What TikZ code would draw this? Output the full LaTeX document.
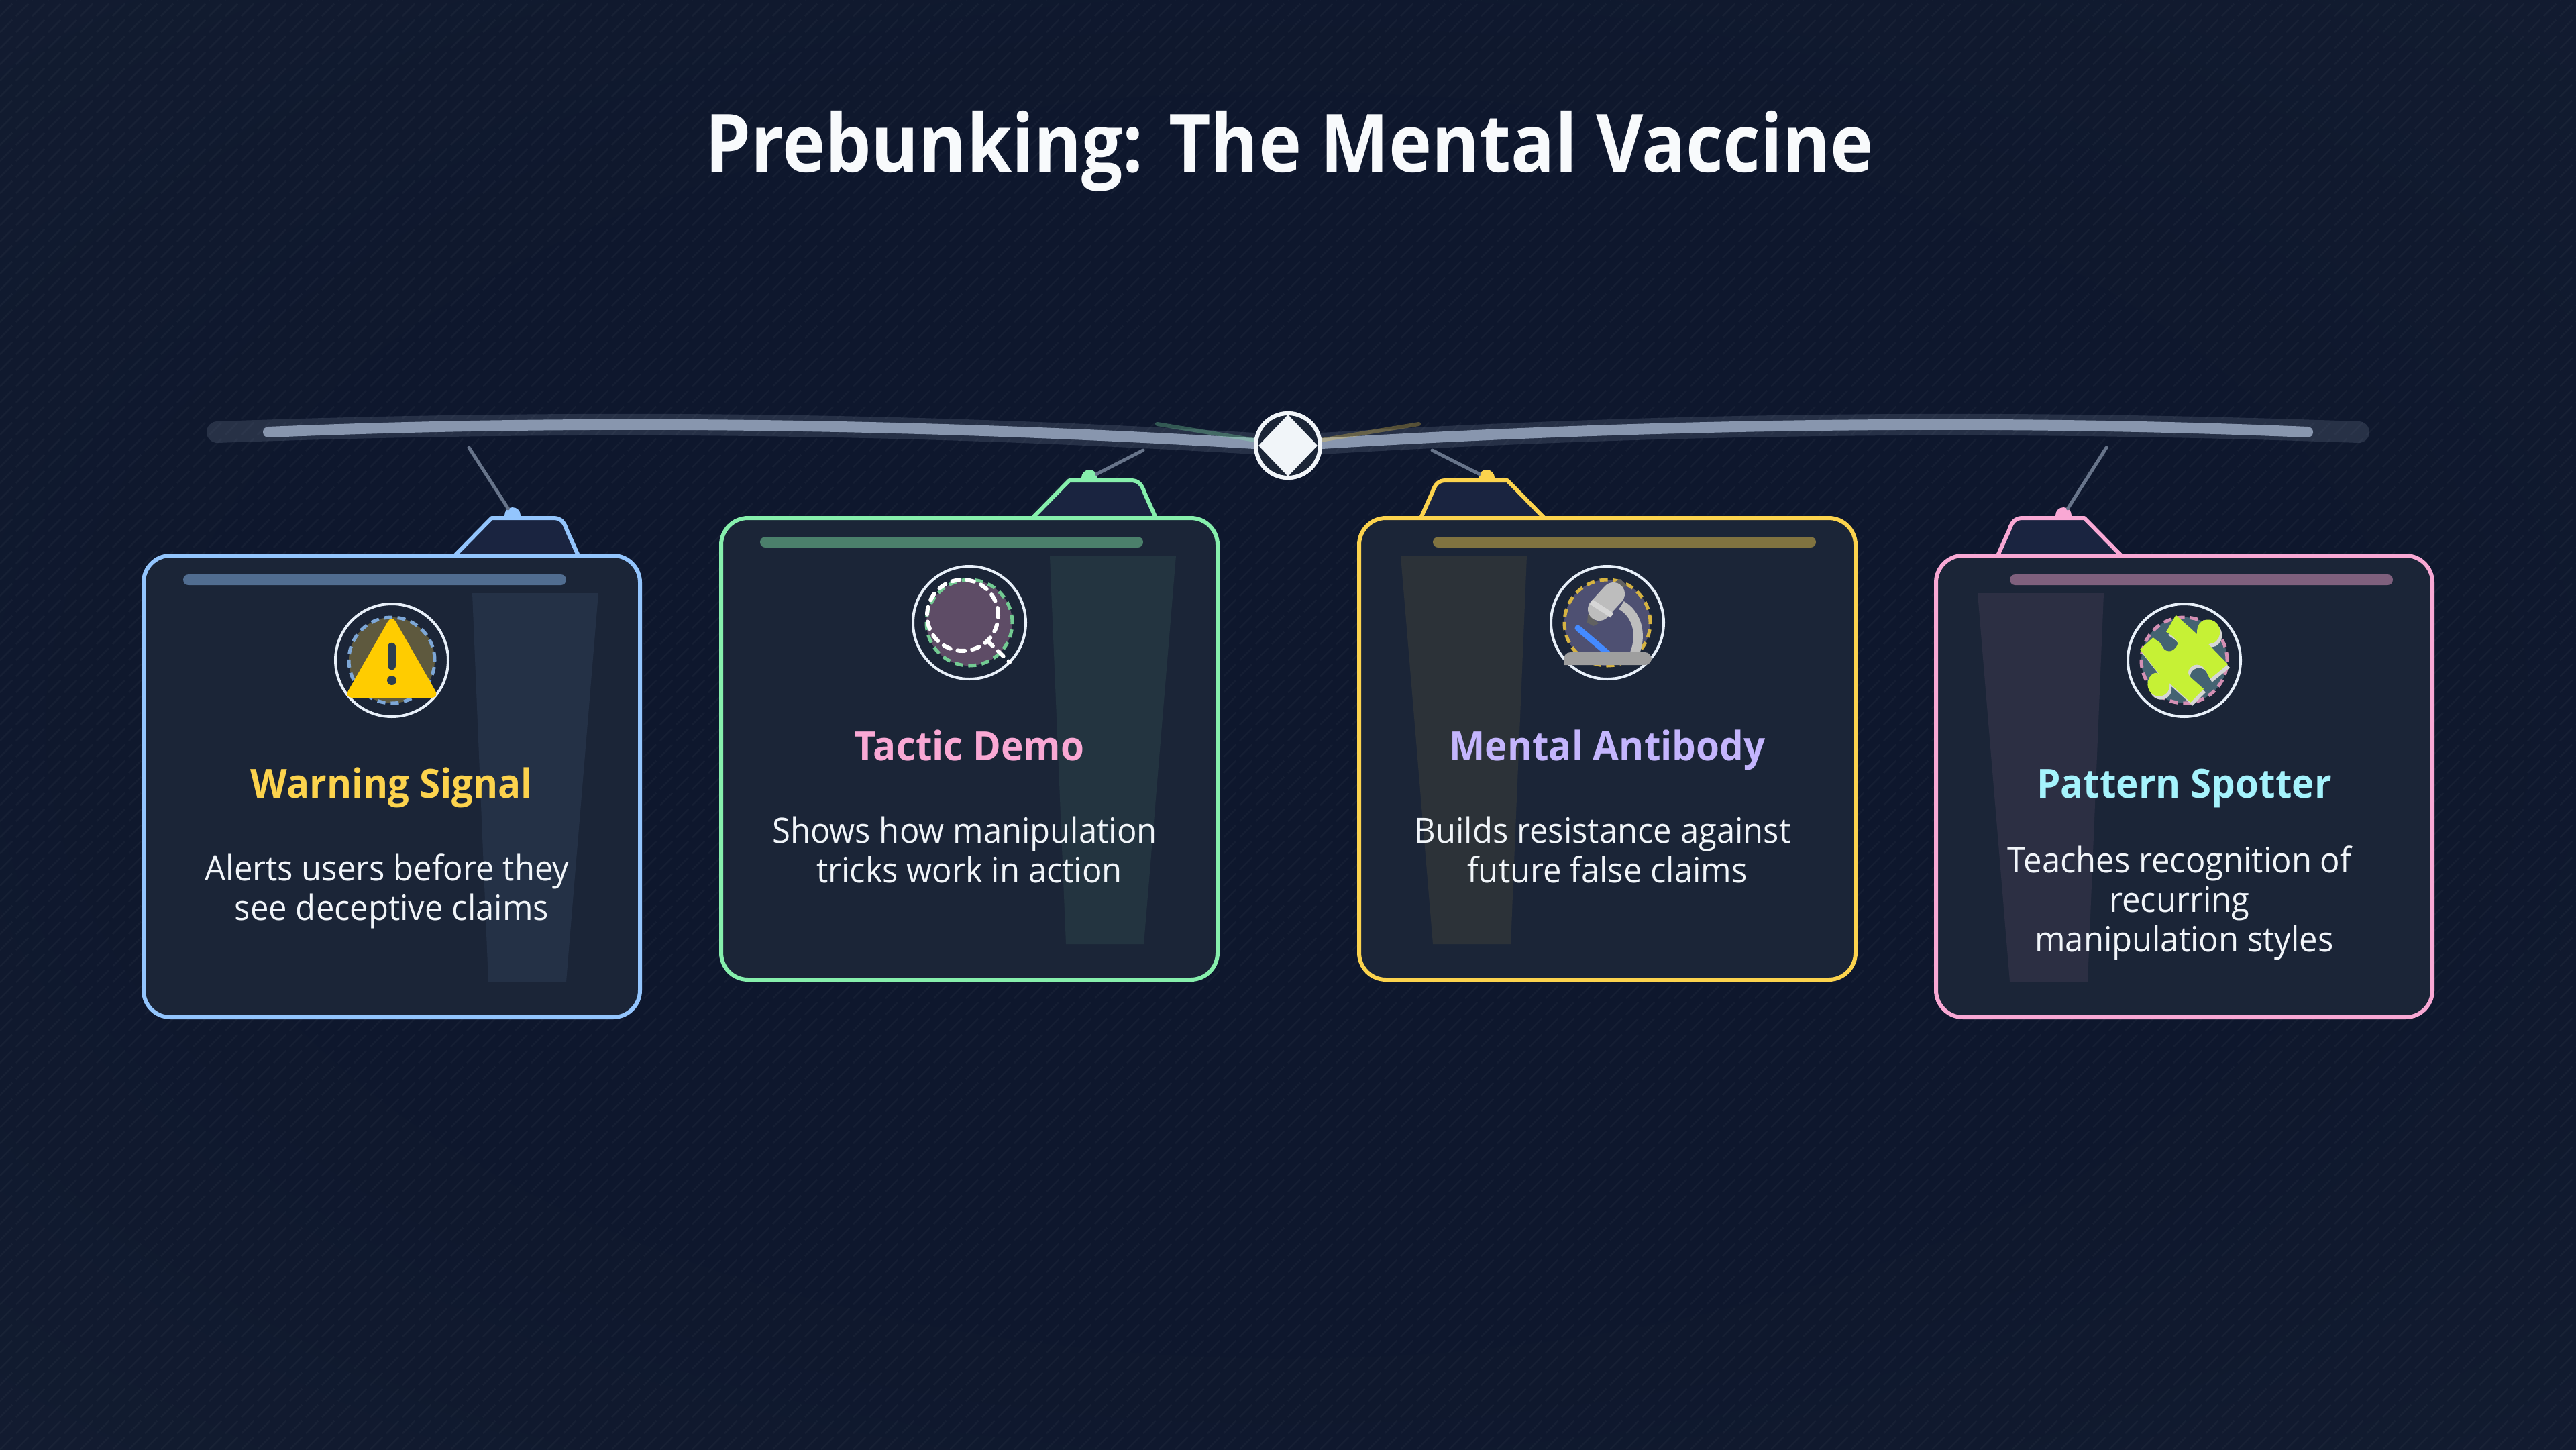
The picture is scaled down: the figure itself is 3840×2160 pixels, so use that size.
\documentclass[tikz,border=0pt]{standalone}
\usepackage{fontspec}
\setmainfont[FakeStretch=.942]{Open Sans}
\newfontfamily\titlefont[FakeStretch=.903]{Open Sans}
\usetikzlibrary{arrows,shapes.geometric,positioning}
\definecolor{cardbg}{HTML}{1B2537}
\definecolor{tabbg}{HTML}{1A2440}
\definecolor{blueline}{HTML}{93C5FD}
\definecolor{greenline}{HTML}{86EFAC}
\definecolor{yellowline}{HTML}{FCD34D}
\definecolor{pinkline}{HTML}{F9A8D4}
\definecolor{violettext}{HTML}{C4B5FD}
\definecolor{cyantext}{HTML}{A5F3FC}
\definecolor{paper}{HTML}{F1F5F9}
\definecolor{steel}{HTML}{8896AE}
\definecolor{warnyellow}{HTML}{FFCC00}
\definecolor{warnink}{HTML}{2C3E50}
\definecolor{scopegray}{HTML}{BDBDBD}
\definecolor{scopedark}{HTML}{616161}
\definecolor{scopelight}{HTML}{D6D6D6}
\definecolor{scopeblue}{HTML}{448AFF}
\definecolor{scopebase}{HTML}{9E9E9E}
\definecolor{puzzlelime}{HTML}{C6F135}
\colorlet{linkgray}{steel!70!cardbg}
\pgfdeclareradialshading{bgglow}{\pgfpoint{0bp}{0bp}}{rgb(0bp)=(0.055,0.09,0.175);rgb(20bp)=(0.055,0.09,0.175);rgb(50bp)=(0.085,0.125,0.2);rgb(70bp)=(0.115,0.16,0.23)}
\tikzstyle{card} = [rectangle, draw, fill=cardbg, line width=6pt, rounded corners=40pt,
    minimum width=740pt, minimum height=688pt, outer sep=0pt]
\tikzstyle{tab} = [draw, fill=tabbg, line width=6pt, line join=round]
\tikzstyle{knob} = [circle, minimum size=24pt, inner sep=0pt, outer sep=0pt]
\tikzstyle{link} = [draw=linkgray, line width=5pt, line cap=round]
\tikzstyle{bar} = [rounded corners=8pt, opacity=.45]
\tikzstyle{glass} = [opacity=.08]
\tikzstyle{ring} = [circle, draw=paper!90!blueline, line width=4pt, minimum size=168pt, inner sep=0pt]
\tikzstyle{badge} = [circle, line width=5pt, minimum size=128pt, inner sep=0pt, dash pattern=on 12pt off 8pt]
\tikzstyle{head} = [font=\bfseries\fontsize{60pt}{70pt}\selectfont]
\tikzstyle{body} = [font=\fontsize{52pt}{59pt}\selectfont, text=paper, align=center]
\newcommand{\eol}{\kern14pt}
\newcommand{\puzzleoutline}{(3243.5,916.7) -- (3275,945) .. controls (3274,925) and (3287,922) .. (3296,924)
    .. controls (3312,928) and (3314,950) .. (3300,958) .. controls (3297,960) and (3294,958) .. (3292,960)
    -- (3321,990) -- (3294.5,1011.7) .. controls (3290,1006) and (3290,1000) .. (3287,998)
    .. controls (3282,988) and (3268,988) .. (3263,998) .. controls (3260,1003) and (3263,1008) .. (3268,1011.7)
    -- (3285,1026.7) -- (3265.4,1046.7) -- (3234,1018) .. controls (3236,1034) and (3222,1040) .. (3214,1037)
    .. controls (3197,1032) and (3198,1008) .. (3212,1003) .. controls (3215,1002) and (3217,1003) .. (3219,1005)
    -- (3190,968) -- (3209.6,950) .. controls (3214,955) and (3218,955) .. (3221.7,960)
    .. controls (3224,972) and (3240,976) .. (3246,960) .. controls (3247,953) and (3236,946) .. (3229,941.7) -- cycle}
\begin{document}
\begin{tikzpicture}[x=1pt,y=-1pt]
    \useasboundingbox (0,0) rectangle (3840,2160);
    % Background
    \shade [shading=bgglow] (0,0) rectangle (3840,2160);
    \foreach \sx in {-2160,-2136,...,3840}
        \draw [white, opacity=.03, line width=2.5pt, dash pattern=on 26pt off 7.94pt] (\sx,2160) -- ++(2160,-2160);
    \node [font=\titlefont\bfseries\fontsize{120pt}{130pt}\selectfont, text=paper!50!white, anchor=base] (title) at (1922,256) {Prebunking: The Mental Vaccine};

    % Beam
    \node [circle, draw=paper, fill=cardbg, line width=6pt, minimum size=96pt, inner sep=0pt] (hub) at (1920,664) {};
    \coordinate (darkleft) at (324,644);
    \coordinate (darkright) at (3516,644);
    \coordinate (lightleft) at (400,644);
    \coordinate (lightright) at (3440,644);
    \coordinate (greentip) at (1725,632);
    \coordinate (yellowtip) at (2115,632);
    \path [draw=steel, opacity=.2, line width=32pt, line cap=round] (darkleft) .. controls (800,627) and (1300,627) .. (hub);
    \path [draw=steel, opacity=.2, line width=32pt, line cap=round] (darkright) .. controls (3040,627) and (2540,627) .. (hub);
    \path [draw=steel, line width=16pt, line cap=round] (lightleft) .. controls (800,627) and (1300,627) .. (hub);
    \path [draw=steel, line width=16pt, line cap=round] (lightright) .. controls (3040,627) and (2540,627) .. (hub);
    \path [draw=greenline, opacity=.3, line width=6pt, line cap=round] (greentip) -- (hub);
    \path [draw=yellowline, opacity=.3, line width=6pt, line cap=round] (yellowtip) -- (hub);
    \node [circle, draw=paper, fill=cardbg, line width=6pt, minimum size=96pt, inner sep=0pt] at (hub) {};
    \node [diamond, fill=paper, minimum width=88pt, minimum height=92pt, inner sep=0pt] (hubmark) at (hub) {};

    % Place knobs and tabs
    \node [knob, fill=blueline] (warnknob) at (764,768) {};
    \node [knob, fill=greenline] (tacticknob) at (1624,712) {};
    \node [knob, fill=yellowline] (antiknob) at (2216,712) {};
    \node [knob, fill=pinkline] (patternknob) at (3076,768) {};
    \draw [tab, draw=blueline, shift={(214,828)}] (464,0) -- (519,-56) -- (611,-56) .. controls (622,-56) and (627,-50) .. (631,-38) -- (648,0);
    \draw [tab, draw=greenline, shift={(1075,772)}] (464,0) -- (519,-56) -- (611,-56) .. controls (622,-56) and (627,-50) .. (631,-38) -- (648,0);
    \draw [tab, draw=yellowline, shift={(2766,772)}, xscale=-1] (464,0) -- (519,-56) -- (611,-56) .. controls (622,-56) and (627,-50) .. (631,-38) -- (648,0);
    \draw [tab, draw=pinkline, shift={(3626,828)}, xscale=-1] (464,0) -- (519,-56) -- (611,-56) .. controls (622,-56) and (627,-50) .. (631,-38) -- (648,0);

    % Place cards
    \node [card, draw=blueline] (warn) at (584,1172) {};
    \node [card, draw=greenline] (tactic) at (1445,1116) {};
    \node [card, draw=yellowline] (anti) at (2396,1116) {};
    \node [card, draw=pinkline] (pattern) at (3256,1172) {};

    % Bars and glass
    \fill [bar, blueline] (273,856) rectangle (844,872);
    \fill [bar, greenline] (1133,800) rectangle (1704,816);
    \fill [bar, yellowline] (2136,800) rectangle (2707,816);
    \fill [bar, pinkline] (2996,856) rectangle (3567,872);
    \fill [glass, blueline] (704,884) -- (892,884) -- (844,1463) -- (728,1463) -- cycle;
    \fill [glass, greenline] (1565,828) -- (1753,828) -- (1705,1407) -- (1589,1407) -- cycle;
    \fill [glass, yellowline] (2088,828) -- (2276,828) -- (2252,1407) -- (2136,1407) -- cycle;
    \fill [glass, pinkline] (2948,884) -- (3136,884) -- (3112,1463) -- (2996,1463) -- cycle;

    % Place rings
    \node [ring, below=156pt of warn.north, anchor=center] (warnring) {};
    \node [ring, below=156pt of tactic.north, anchor=center] (tacticring) {};
    \node [ring, below=156pt of anti.north, anchor=center] (antiring) {};
    \node [ring, below=156pt of pattern.north, anchor=center] (patternring) {};
    \node [badge, draw=blueline!85!black, fill=yellowline!30!cardbg] (warnbadge) at (warnring) {};
    \node [badge, draw=greenline!85!black, fill=pinkline!30!cardbg] (tacticbadge) at (tacticring) {};
    \node [badge, draw=yellowline!85!black, fill=violettext!30!cardbg] (antibadge) at (antiring) {};
    \node [badge, draw=pinkline!85!black, fill=cyantext!30!cardbg] (patternbadge) at (patternring) {};

    % Warning icon
    \fill [warnyellow, rounded corners=12pt] (584,916) -- (655,1040) -- (513,1040) -- cycle;
    \draw [warnink, line width=12.5pt, line cap=round] (584,964) -- (584,992);
    \fill [warnink] (584,1014) circle (7pt);

    % Magnifier icon
    \draw [white, line width=6pt, line cap=round, dash pattern=on 11pt off 11pt] (1435,917) circle (53pt);
    \draw [white, line width=6pt, line cap=round, dash pattern=on 11pt off 11pt] (1472,955) -- (1505,987);

    % Microscope icon
    \fill [scopedark] (2367,915) -- (2383,929) -- (2375,933) -- (2366,928) -- cycle;
    \fill [scopedark] (2408,867) -- (2415,863) -- (2425,872) -- (2418,877) -- cycle;
    \draw [scopegray, line width=14pt] (2417,902) .. controls (2440,915) and (2448,945) .. (2437,973);
    \draw [scopegray, line width=34pt, line cap=round] (2405,885) -- (2384,908);
    \draw [scopelight, line width=8pt] (2372,897) -- (2403,917);
    \draw [scopeblue, line width=9pt, line cap=round] (2352,936) -- (2398,975);
    \fill [scopebase] (2331,991) [rounded corners=10pt] -- (2331,972) -- (2462,972) -- (2462,991) [sharp corners] -- cycle;

    % Puzzle icon
    \fill [scopelight, shift={(3,5)}] \puzzleoutline;
    \fill [puzzlelime] \puzzleoutline;

    % Place texts
    \node [head, text=yellowline, below=361pt of warn.north, anchor=base] (warnhead) {Warning Signal};
    \node [head, text=pinkline, below=361pt of tactic.north, anchor=base] (tactichead) {Tactic Demo};
    \node [head, text=violettext, below=361pt of anti.north, anchor=base] (antihead) {Mental Antibody};
    \node [head, text=cyantext, below=361pt of pattern.north, anchor=base] (patternhead) {Pattern Spotter};
    \node [body, below=543pt of warn.north, anchor=base] (warntext) {Alerts users before they\eol\\see deceptive claims};
    \node [body, below=543pt of tactic.north, anchor=base] (tactictext) {Shows how manipulation\eol\\tricks work in action};
    \node [body, below=543pt of anti.north, anchor=base] (antitext) {Builds resistance against\eol\\future false claims};
    \node [body, below=590pt of pattern.north, anchor=base] (patterntext) {Teaches recognition of\eol\\recurring\eol\\manipulation styles};

    % Draw links
    \coordinate (warnroot) at (699,667);
    \coordinate (tacticroot) at (1704,671);
    \coordinate (antiroot) at (2135,671);
    \coordinate (patternroot) at (3140,667);
    \path [link] (warnroot) -- (warnknob);
    \path [link] (tacticroot) -- (tacticknob);
    \path [link] (antiroot) -- (antiknob);
    \path [link] (patternroot) -- (patternknob);
\end{tikzpicture}
\end{document}
